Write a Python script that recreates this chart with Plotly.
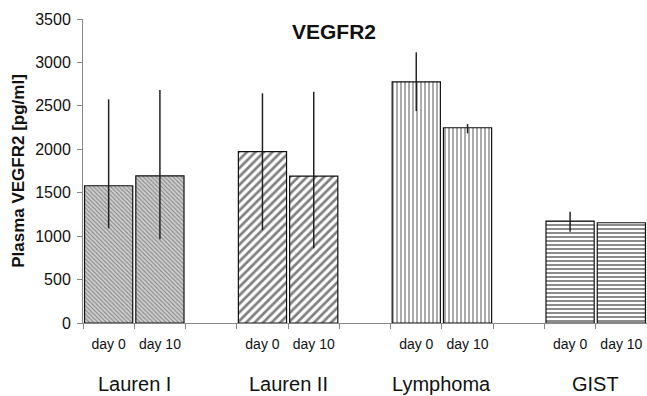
import plotly.graph_objects as go

groups = ["Lauren I", "Lauren II", "Lymphoma", "GIST"]
days = ["day 0", "day 10"]
values = {
    "Lauren I": [1580, 1695],
    "Lauren II": [1972, 1692],
    "Lymphoma": [2777, 2248],
    "GIST": [1174, 1154],
}
err_plus = {
    "Lauren I": [995, 987],
    "Lauren II": [672, 970],
    "Lymphoma": [339, 42],
    "GIST": [107, 0],
}
err_minus = {
    "Lauren I": [490, 732],
    "Lauren II": [902, 832],
    "Lymphoma": [337, 65],
    "GIST": [123, 0],
}
y_ticks = [0, 500, 1000, 1500, 2000, 2500, 3000, 3500]

patterns = {
    "Lauren I": dict(shape="\\", fgcolor="#3a3a3a", bgcolor="#cfcfcf", size=3, solidity=0.35),
    "Lauren II": dict(shape="/", fgcolor="#000000", bgcolor="#ffffff", size=6, solidity=0.45),
    "Lymphoma": dict(shape="|", fgcolor="#444444", bgcolor="#ffffff", size=4, solidity=0.45),
    "GIST": dict(shape="-", fgcolor="#000000", bgcolor="#ffffff", size=4, solidity=0.45),
}

# category list with gap slots between groups
cats = []
ticktext = []
for i, g in enumerate(groups):
    for d in days:
        cats.append(f"{g} {d}")
        ticktext.append(d)
    if i < len(groups) - 1:
        cats.append(" " * (i + 1))
        ticktext.append("")

fig = go.Figure()
for g in groups:
    fig.add_trace(go.Bar(
        x=[f"{g} {d}" for d in days],
        y=values[g],
        marker=dict(color="white", line=dict(color="#111111", width=1.2), pattern=patterns[g]),
        error_y=dict(type="data", symmetric=False, array=err_plus[g], arrayminus=err_minus[g],
                     color="#222222", thickness=1.5, width=0),
        showlegend=False,
    ))

for i, g in enumerate(groups):
    fig.add_annotation(x=i * 3 + 0.5, y=0, xref="x", yref="paper", yshift=-61,
                       yanchor="middle", text=g, showarrow=False,
                       font=dict(size=20, color="#111111"))

fig.update_layout(
    width=647, height=396,
    margin=dict(l=83, r=0, t=19, b=73),
    paper_bgcolor="white", plot_bgcolor="white",
    barmode="overlay", bargap=0.06,
    font=dict(family="Liberation Sans, Arial, sans-serif", color="#111111"),
    title=dict(text="<b>VEGFR2</b>", x=334 / 647, xanchor="center", xref="container",
               y=1 - 32 / 396, yanchor="middle", font=dict(size=21, color="#111111")),
    xaxis=dict(type="category", categoryorder="array", categoryarray=cats,
               tickvals=cats, ticktext=ticktext, range=[-0.5, len(cats) - 0.5],
               tickson="boundaries", ticks="outside", ticklen=5, tickcolor="#888888",
               showline=True, linecolor="#888888", linewidth=1, showgrid=False,
               tickfont=dict(size=14), ticklabelstandoff=8, automargin=False),
    yaxis=dict(range=[0, 3500], tickvals=y_ticks, ticks="outside", ticklen=5,
               tickcolor="#888888", showline=True, linecolor="#888888", linewidth=1,
               showgrid=False, zeroline=False, tickfont=dict(size=16), ticklabelstandoff=3,
               automargin=False,
               title=dict(text="<b>Plasma VEGFR2 [pg/ml]</b>", font=dict(size=17), standoff=6)),
)

fig.write_html("out.html", config={"displayModeBar": False},
               post_script="document.body.style.margin='0';")
